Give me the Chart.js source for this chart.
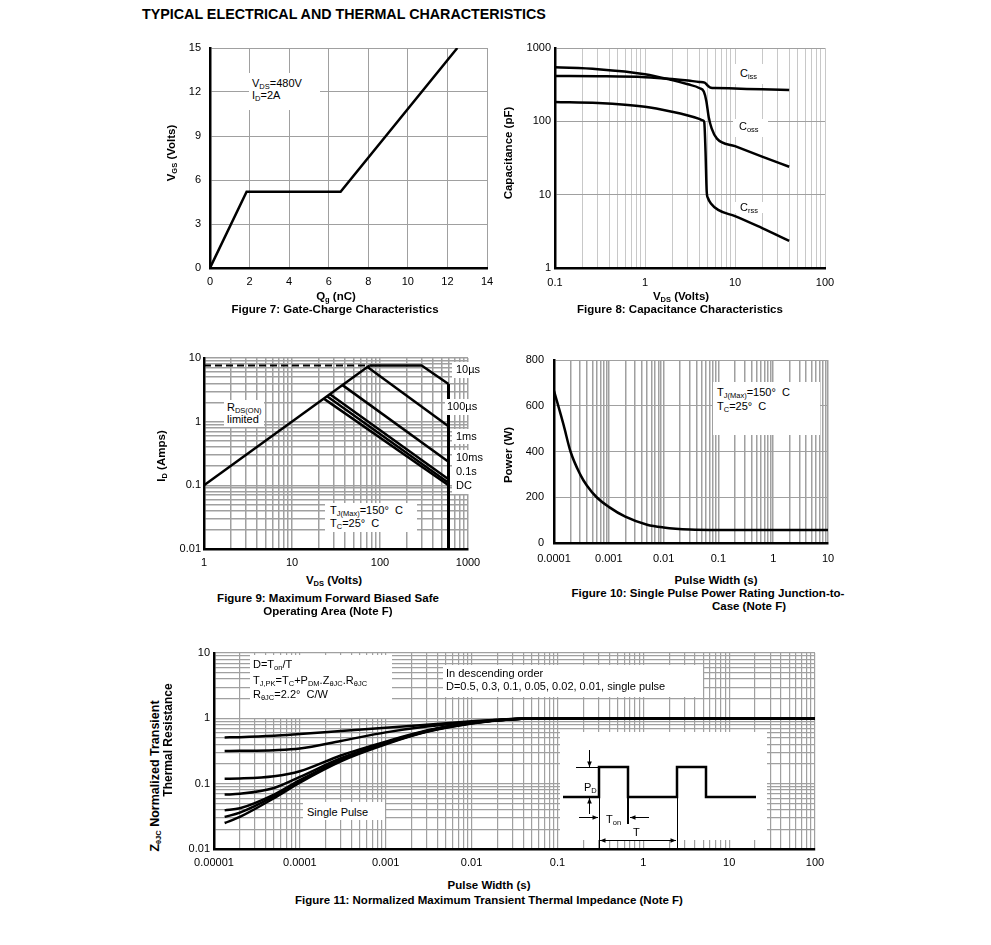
<!DOCTYPE html>
<html>
<head>
<meta charset="utf-8">
<title>Typical Electrical and Thermal Characteristics</title>
<script src="https://cdn.jsdelivr.net/npm/chart.js@4.4.1/dist/chart.umd.min.js"></script>
<style>
  body { margin: 0; background: #fff; }
  #page { position: relative; width: 991px; height: 945px; overflow: hidden;
          font-family: "Liberation Sans", Arial, sans-serif; color: #000; }
  canvas { position: absolute; }
  .t { position: absolute; font-size: 11px; line-height: 13px; white-space: nowrap; }
  .b { font-weight: bold; font-size: 11.5px; }
  .c { transform: translateX(-50%); }
  .r { transform: translate(-50%, -50%) rotate(-90deg); }
  .w { position: absolute; background: #fff; }
  sub { font-size: 7.5px; line-height: 0; vertical-align: baseline; position: relative; top: 2px; }
</style>
</head>
<body>
<div id="page">
  <canvas id="fig7"></canvas>
  <canvas id="fig8"></canvas>
  <canvas id="fig9"></canvas>
  <canvas id="fig10"></canvas>
  <canvas id="fig11"></canvas>

  <!-- white label backgrounds -->
  <div class="w" style="left:249px;top:73px;width:71px;height:37px"></div>
  <div class="w" style="left:733px;top:64px;width:36px;height:20px"></div>
  <div class="w" style="left:733px;top:119px;width:35px;height:18px"></div>
  <div class="w" style="left:735px;top:202px;width:30px;height:11px"></div>
  <div class="w" style="left:452px;top:362px;width:27px;height:16px"></div>
  <div class="w" style="left:445px;top:399px;width:34px;height:16px"></div>
  <div class="w" style="left:452px;top:429px;width:27px;height:15px"></div>
  <div class="w" style="left:452px;top:450px;width:27px;height:44px"></div>
  <div class="w" style="left:224px;top:400px;width:40px;height:27px"></div>
  <div class="w" style="left:325px;top:503px;width:92px;height:29px"></div>
  <div class="w" style="left:713px;top:382px;width:107px;height:53px"></div>
  <div class="w" style="left:250px;top:655px;width:142px;height:63px"></div>
  <div class="w" style="left:443px;top:665px;width:260px;height:32px"></div>
  <div class="w" style="left:303px;top:802px;width:82px;height:18px"></div>

  <div class="t b" style="left:142px;top:6px;font-size:14.3px;line-height:16px">TYPICAL ELECTRICAL AND THERMAL CHARACTERISTICS</div>

  <!-- Figure 7 -->
  <div class="t" style="left:252px;top:77px">V<sub>DS</sub>=480V</div>
  <div class="t" style="left:252px;top:89px">I<sub>D</sub>=2A</div>
  <div class="t b r" style="left:171px;top:153px">V<sub>GS</sub> (Volts)</div>
  <div class="t b c" style="left:336px;top:290px">Q<sub>g</sub> (nC)</div>
  <div class="t b c" style="left:335px;top:303px">Figure 7: Gate-Charge Characteristics</div>

  <!-- Figure 8 -->
  <div class="t" style="left:740px;top:67px">C<sub>iss</sub></div>
  <div class="t" style="left:739px;top:120px">C<sub>oss</sub></div>
  <div class="t" style="left:740px;top:201px">C<sub>rss</sub></div>
  <div class="t b r" style="left:508px;top:153px">Capacitance (pF)</div>
  <div class="t b c" style="left:681px;top:290px">V<sub>DS</sub> (Volts)</div>
  <div class="t b c" style="left:680px;top:303px">Figure 8: Capacitance Characteristics</div>

  <!-- Figure 9 -->
  <div class="t" style="left:456px;top:363px">10&micro;s</div>
  <div class="t" style="left:447px;top:400px">100&micro;s</div>
  <div class="t" style="left:456px;top:430px">1ms</div>
  <div class="t" style="left:456px;top:451px">10ms</div>
  <div class="t" style="left:456px;top:465px">0.1s</div>
  <div class="t" style="left:456px;top:479px">DC</div>
  <div class="t" style="left:227px;top:401px">R<sub>DS(ON)</sub></div>
  <div class="t" style="left:227px;top:413px">limited</div>
  <div class="t" style="left:330px;top:504px">T<sub>J(Max)</sub>=150&deg;&nbsp; C</div>
  <div class="t" style="left:330px;top:517px">T<sub>C</sub>=25&deg;&nbsp; C</div>
  <div class="t b r" style="left:161px;top:456px">I<sub>D</sub> (Amps)</div>
  <div class="t b c" style="left:334px;top:574px">V<sub>DS</sub> (Volts)</div>
  <div class="t b c" style="left:328px;top:592px">Figure 9: Maximum Forward Biased Safe</div>
  <div class="t b c" style="left:328px;top:605px">Operating Area (Note F)</div>

  <!-- Figure 10 -->
  <div class="t" style="left:717px;top:386px">T<sub>J(Max)</sub>=150&deg;&nbsp; C</div>
  <div class="t" style="left:717px;top:400px">T<sub>C</sub>=25&deg;&nbsp; C</div>
  <div class="t b r" style="left:508px;top:455px">Power (W)</div>
  <div class="t b c" style="left:716px;top:574px">Pulse Width (s)</div>
  <div class="t b c" style="left:708px;top:587px">Figure 10: Single Pulse Power Rating Junction-to-</div>
  <div class="t b c" style="left:749px;top:600px">Case (Note F)</div>

  <!-- Figure 11 -->
  <div class="t" style="left:253px;top:658px">D=T<sub>on</sub>/T</div>
  <div class="t" style="left:253px;top:674px">T<sub>J,PK</sub>=T<sub>C</sub>+P<sub>DM</sub>.Z<sub>&theta;JC</sub>.R<sub>&theta;JC</sub></div>
  <div class="t" style="left:253px;top:688px">R<sub>&theta;JC</sub>=2.2&deg;&nbsp; C/W</div>
  <div class="t" style="left:446px;top:667px">In descending order</div>
  <div class="t" style="left:446px;top:680px">D=0.5, 0.3, 0.1, 0.05, 0.02, 0.01, single pulse</div>
  <div class="t" style="left:307px;top:806px">Single Pulse</div>
  <div class="t" style="left:584px;top:781px">P<sub>D</sub></div>
  <div class="t" style="left:606px;top:813px">T<sub>on</sub></div>
  <div class="t" style="left:633px;top:826px">T</div>
  <div class="t b r" style="left:155px;top:776px;font-size:12.5px">Z<sub>&theta;JC</sub> Normalized Transient</div>
  <div class="t b r" style="left:168px;top:740px;font-size:12px">Thermal Resistance</div>
  <div class="t b c" style="left:489px;top:879px">Pulse Width (s)</div>
  <div class="t b c" style="left:489px;top:894px">Figure 11: Normalized Maximum Transient Thermal Impedance (Note F)</div>
</div>

<script>
// ---------- Figure 7: gate charge ----------
const qgNc = [0, 1.85, 6.6, 12.5];
const vgsVolts = [0, 5.2, 5.2, 15];
const qgTicks = [0, 2, 4, 6, 8, 10, 12, 14];
const vgsTicks = [0, 3, 6, 9, 12, 15];

// ---------- Figure 8: capacitance ----------
const cissVds = [0.1, 0.3, 1, 2, 3, 4, 4.6, 5.0, 5.4, 6, 10, 20, 40];
const cissPf = [415, 412, 400, 378, 360, 345, 337, 305, 287, 285, 280, 273, 267];
const cossVds = [0.1, 0.3, 1, 2, 3, 4, 4.5, 4.8, 5.1, 5.5, 6.3, 10, 20, 40];
const cossPf = [545, 515, 440, 365, 320, 285, 255, 190, 115, 80, 58, 46, 33, 24];
const crssVds = [0.1, 0.3, 1, 2, 3, 4, 4.4, 4.55, 4.7, 4.85, 5.0, 5.4, 6.5, 10, 20, 40];
const crssPf = [184, 178, 158, 135, 120, 108, 103, 98, 40, 11, 9, 7.6, 6.2, 5.1, 3.5, 2.35];
const capVdsLabels = ["0.1", "1", "10", "100"];
const capPfLabels = ["1", "10", "100", "1000"];

// ---------- Figure 9: safe operating area ----------
const rdsVds = [1, 76];        const rdsId = [0.1, 7.6];
const limVds = [1, 76];        const limId = [7.6, 7.6];
const us10Vds = [76, 297, 600]; const us10Id = [7.6, 7.6, 3.9];
const us100Vds = [72, 600];    const us100Id = [7.2, 0.85];
const ms1Vds = [37.5, 600];    const ms1Id = [3.75, 0.235];
const ms10Vds = [27, 600];     const ms10Id = [2.7, 0.125];
const s01Vds = [25, 600];      const s01Id = [2.5, 0.11];
const dcVds = [23, 600];       const dcId = [2.3, 0.1];
const bvVds = [600, 600];      const bvId = [0.01, 3.9];
const soaVdsLabels = ["1", "10", "100", "1000"];
const soaIdLabels = ["0.01", "0.1", "1", "10"];

// ---------- Figure 10: single pulse power ----------
const pulseS = [0.0001, 0.00015, 0.0002, 0.0003, 0.0004, 0.0006, 0.001, 0.002, 0.005, 0.01, 0.03, 0.1, 1, 10];
const powerW = [665, 515, 400, 300, 250, 200, 158, 115, 80, 68, 59, 57, 57, 57];
const pulseLabels10 = ["0.0001", "0.001", "0.01", "0.1", "1", "10"];
const powerTicks = [0, 200, 400, 600, 800];

// ---------- Figure 11: transient thermal impedance ----------
const zthPulse = [1.33e-5, 2e-5, 5e-5, 1e-4, 3e-4, 1e-3, 3e-3, 0.01, 0.03, 0.1, 1, 10, 100];
const zD05 = [0.51, 0.515, 0.54, 0.575, 0.64, 0.72, 0.8, 0.9, 0.98, 1, 1, 1, 1];
const zD03 = [0.316, 0.318, 0.326, 0.345, 0.45, 0.61, 0.75, 0.88, 0.975, 1, 1, 1, 1];
const zD01 = [0.119, 0.12, 0.13, 0.155, 0.27, 0.44, 0.65, 0.86, 0.97, 1, 1, 1, 1];
const zD005 = [0.068, 0.07, 0.086, 0.127, 0.245, 0.425, 0.64, 0.85, 0.97, 1, 1, 1, 1];
const zD002 = [0.039, 0.042, 0.068, 0.113, 0.232, 0.415, 0.635, 0.845, 0.97, 1, 1, 1, 1];
const zD001 = [0.031, 0.036, 0.064, 0.108, 0.226, 0.41, 0.63, 0.84, 0.97, 1, 1, 1, 1];
const zSingle = [0.025, 0.031, 0.06, 0.104, 0.22, 0.40, 0.62, 0.835, 0.965, 1, 1, 1, 1];
const pulseLabels11 = ["0.00001", "0.0001", "0.001", "0.01", "0.1", "1", "10", "100"];
const zthLabels = ["0.01", "0.1", "1", "10"];

const FONT = '"Liberation Sans", Arial, sans-serif';
const Y_AXIS_W = 45, X_AXIS_H = 24, PAD_T = 10, PAD_R = 24;
const GRID = "#a0a0a0";

function placeCanvas(id, plot) {
  const c = document.getElementById(id);
  c.width = plot.right - plot.left + Y_AXIS_W + PAD_R;
  c.height = plot.bottom - plot.top + PAD_T + X_AXIS_H;
  c.style.left = (plot.left - Y_AXIS_W) + "px";
  c.style.top = (plot.top - PAD_T) + "px";
  return c;
}

// every 1..9 x 10^n between the first and last decade label
function decadeGrid(labels) {
  const lo = Math.round(Math.log10(parseFloat(labels[0])));
  const hi = Math.round(Math.log10(parseFloat(labels[labels.length - 1])));
  const out = [];
  for (let e = lo; e < hi; e++) {
    for (let m = 1; m < 10; m++) out.push(m * Math.pow(10, e));
  }
  out.push(Math.pow(10, hi));
  return out;
}

function logLabeler(labels) {
  const vals = labels.map(parseFloat);
  return v => {
    const i = vals.findIndex(x => Math.abs(x - v) <= x * 1e-6);
    return i < 0 ? "" : labels[i];
  };
}

function makeScale(axis, type, min, max, gridValues, labelFor, gridColor, gridWidth, pad) {
  return {
    type: type,
    min: min,
    max: max,
    afterBuildTicks: s => { s.ticks = gridValues.map(v => ({ value: v })); },
    afterFit: s => {
      if (axis === "x") s.height = X_AXIS_H; else s.width = Y_AXIS_W;
      s.paddingLeft = 0; s.paddingRight = 0; s.paddingTop = 0; s.paddingBottom = 0;
    },
    ticks: {
      autoSkip: false, maxRotation: 0, minRotation: 0, padding: pad,
      color: "#000", font: { family: FONT, size: 11 },
      callback: v => labelFor(v)
    },
    grid: { drawTicks: false, color: gridColor, lineWidth: gridWidth },
    border: { display: true, color: "#000", width: 2.5 }
  };
}

function lineSet(xs, ys, extra) {
  return Object.assign({
    data: xs.map((x, i) => ({ x: x, y: ys[i] })),
    showLine: true, borderColor: "#000", borderWidth: 2.5,
    pointRadius: 0, pointHoverRadius: 0, fill: false
  }, extra || {});
}

function makeChart(id, plot, datasets, xScale, yScale, plugins) {
  const canvas = placeCanvas(id, plot);
  return new Chart(canvas, {
    type: "scatter",
    data: { datasets: datasets },
    options: {
      responsive: false, animation: false, devicePixelRatio: 1,
      layout: { padding: { top: PAD_T, right: PAD_R, left: 0, bottom: 0 } },
      plugins: { legend: { display: false }, tooltip: { enabled: false } },
      scales: { x: xScale, y: yScale }
    },
    plugins: plugins || []
  });
}

const smooth = { cubicInterpolationMode: "monotone" };

// Figure 7
makeChart("fig7", { left: 210, top: 48, right: 487, bottom: 268 },
  [lineSet(qgNc, vgsVolts)],
  makeScale("x", "linear", 0, 14, qgTicks, v => String(v), GRID, 1, 7),
  makeScale("y", "linear", 0, 15, vgsTicks, v => String(v), GRID, 1, 9));

// Figure 8
makeChart("fig8", { left: 555, top: 48, right: 825, bottom: 268 },
  [lineSet(cissVds, cissPf, smooth), lineSet(cossVds, cossPf, smooth), lineSet(crssVds, crssPf, smooth)],
  makeScale("x", "logarithmic", 0.1, 100, decadeGrid(capVdsLabels), logLabeler(capVdsLabels), "#c8c8c8", 1, 8),
  makeScale("y", "logarithmic", 1, 1000, capPfLabels.map(parseFloat), logLabeler(capPfLabels), GRID, 1, 4));

// Figure 9
makeChart("fig9", { left: 204, top: 358, right: 468, bottom: 549 },
  [
    lineSet(limVds, limId, { borderDash: [7, 4], borderWidth: 2 }),
    lineSet(rdsVds, rdsId),
    lineSet(us10Vds, us10Id),
    lineSet(us100Vds, us100Id),
    lineSet(ms1Vds, ms1Id),
    lineSet(ms10Vds, ms10Id),
    lineSet(s01Vds, s01Id),
    lineSet(dcVds, dcId),
    lineSet(bvVds, bvId, { borderWidth: 3 })
  ],
  makeScale("x", "logarithmic", 1, 1000, decadeGrid(soaVdsLabels), logLabeler(soaVdsLabels), GRID, 1.5, 7),
  makeScale("y", "logarithmic", 0.01, 10, decadeGrid(soaIdLabels), logLabeler(soaIdLabels), GRID, 1.5, 3));

// Figure 10
makeChart("fig10", { left: 554, top: 360, right: 828, bottom: 543 },
  [lineSet(pulseS, powerW, smooth)],
  makeScale("x", "logarithmic", 0.0001, 10, decadeGrid(pulseLabels10), logLabeler(pulseLabels10), GRID, 1.5, 9),
  makeScale("y", "linear", 0, 800, powerTicks, v => String(v), GRID, 1, 10));

// Figure 11 inset: duty-cycle pulse sketch, placed relative to the plot area
function arrow(ctx, x1, y1, x2, y2) {
  ctx.beginPath(); ctx.moveTo(x1, y1); ctx.lineTo(x2, y2); ctx.stroke();
  const a = Math.atan2(y2 - y1, x2 - x1), h = 6;
  ctx.beginPath();
  ctx.moveTo(x2, y2);
  ctx.lineTo(x2 - h * Math.cos(a - 0.4), y2 - h * Math.sin(a - 0.4));
  ctx.lineTo(x2 - h * Math.cos(a + 0.4), y2 - h * Math.sin(a + 0.4));
  ctx.closePath(); ctx.fill();
}

const pulseInset = {
  id: "pulseInset",
  afterDatasetsDraw(chart) {
    const ctx = chart.ctx, a = chart.chartArea;
    const X = d => a.left + d, Y = d => a.top + d;
    ctx.save();
    ctx.fillStyle = "#fff";
    ctx.fillRect(X(346), Y(79), 207, 108);
    ctx.strokeStyle = "#000"; ctx.fillStyle = "#000";
    ctx.lineWidth = 2.5; ctx.lineJoin = "miter";
    ctx.beginPath();
    const wave = [[349, 144], [385, 144], [385, 114], [414, 114], [414, 144], [463, 144],
                  [463, 114], [492, 114], [492, 144], [542, 144]];
    wave.forEach((p, i) => i ? ctx.lineTo(X(p[0]), Y(p[1])) : ctx.moveTo(X(p[0]), Y(p[1])));
    ctx.stroke();
    ctx.lineWidth = 2;
    ctx.beginPath(); ctx.moveTo(X(414), Y(144)); ctx.lineTo(X(414), Y(171)); ctx.stroke();
    ctx.lineWidth = 1;
    ctx.beginPath();
    ctx.moveTo(X(385.5), Y(144)); ctx.lineTo(X(385.5), Y(196));
    ctx.moveTo(X(463.5), Y(144)); ctx.lineTo(X(463.5), Y(196));
    ctx.moveTo(X(362), Y(114.5)); ctx.lineTo(X(385), Y(114.5));
    ctx.stroke();
    arrow(ctx, X(375.5), Y(97), X(375.5), Y(114));
    arrow(ctx, X(375.5), Y(161), X(375.5), Y(145));
    arrow(ctx, X(365), Y(164.5), X(384), Y(164.5));
    arrow(ctx, X(435), Y(164.5), X(416), Y(164.5));
    arrow(ctx, X(424), Y(187.5), X(386), Y(187.5));
    arrow(ctx, X(424), Y(187.5), X(462), Y(187.5));
    ctx.restore();
  }
};

makeChart("fig11", { left: 214, top: 653, right: 815, bottom: 849 },
  [zD05, zD03, zD01, zD005, zD002, zD001, zSingle].map(z => lineSet(zthPulse, z, smooth)),
  makeScale("x", "logarithmic", 0.00001, 100, decadeGrid(pulseLabels11), logLabeler(pulseLabels11), GRID, 1.2, 7),
  makeScale("y", "logarithmic", 0.01, 10, decadeGrid(zthLabels), logLabeler(zthLabels), GRID, 1.2, 4),
  [pulseInset]);
</script>
</body>
</html>
